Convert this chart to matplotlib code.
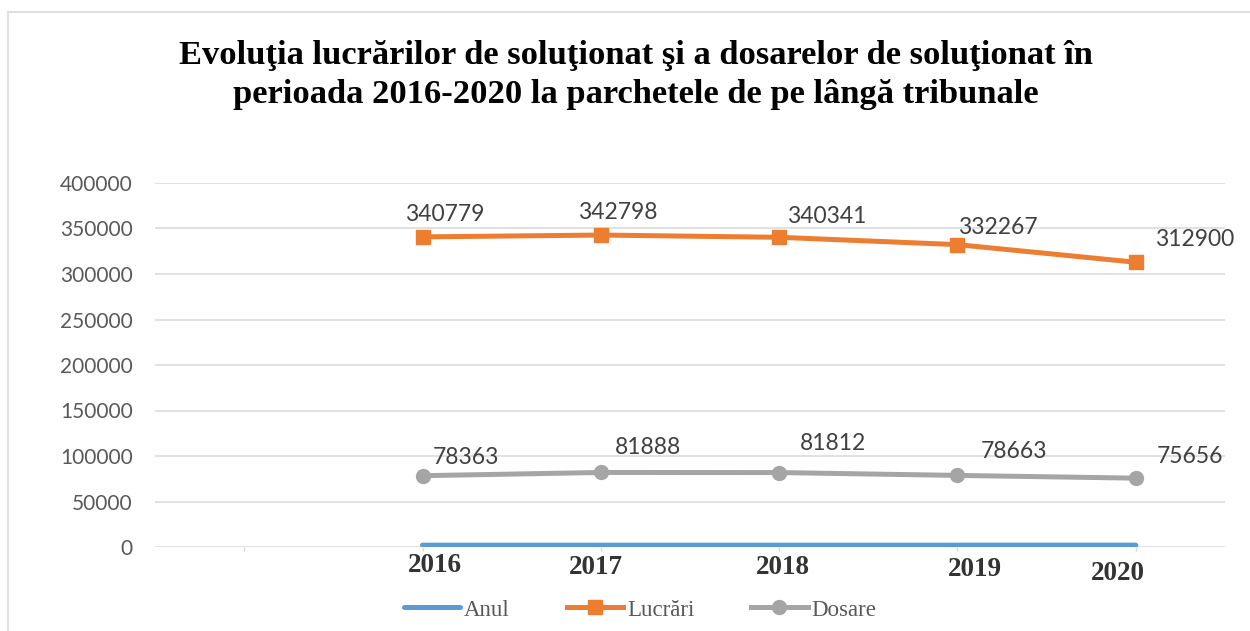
import matplotlib.pyplot as plt
from matplotlib.patches import Rectangle

# date
categorii = ['', '2016', '2017', '2018', '2019', '2020']
anul = [2016, 2017, 2018, 2019, 2020]
lucrari = [340779, 342798, 340341, 332267, 312900]
dosare = [78363, 81888, 81812, 78663, 75656]

# decalaj etichete (pixeli)
off_anul = [(12, -20), (-5, -22), (4, -22), (17, -24), (-18, -28)]
off_lucrari = [(22, 22), (17, 23), (48, 21), (40, 17), (59, 23)]
off_dosare = [(43, 18), (47, 25), (54, 29), (57, 24), (54, 22)]

titlu = 'Evoluţia lucrărilor de soluţionat şi a dosarelor de soluţionat în\nperioada 2016-2020 la parchetele de pe lângă tribunale'

albastru = '#5B9BD5'
portocaliu = '#ED7D31'
gri = '#A5A5A5'
grila = '#D9D9D9'

fig = plt.figure(figsize=(12.5, 6.31), dpi=100)
ax = fig.add_axes([155/1250, 1 - 547/631, 1070/1250, 364/631])

x = list(range(1, len(categorii)))

l1, = ax.plot(x, anul, color=albastru, lw=3.6, solid_capstyle='round', zorder=3)
l2, = ax.plot(x, lucrari, color=portocaliu, lw=3.6, marker='s', markersize=10, zorder=3)
l3, = ax.plot(x, dosare, color=gri, lw=3.6, marker='o', markersize=10, zorder=3)

px = 72 / 100  # pixeli -> puncte

for xi, v, (dx, dy) in zip(x, anul, off_anul):
    ax.annotate(str(v), (xi, v), xytext=(dx * px, dy * px), textcoords='offset points',
                ha='center', va='center', fontsize=19.5, fontweight='bold',
                family='Liberation Serif', color='#333333')
for xi, v, (dx, dy) in zip(x, lucrari, off_lucrari):
    ax.annotate(str(v), (xi, v), xytext=(dx * px, dy * px), textcoords='offset points',
                ha='center', va='center', fontsize=16.5, family='Lato', color='#404040')
for xi, v, (dx, dy) in zip(x, dosare, off_dosare):
    ax.annotate(str(v), (xi, v), xytext=(dx * px, dy * px), textcoords='offset points',
                ha='center', va='center', fontsize=16.5, family='Lato', color='#404040')

ax.set_xlim(-0.5, len(categorii) - 0.5)
ax.set_ylim(0, 400000)
ax.set_yticks(range(0, 400001, 50000))
ax.set_xticks(range(len(categorii)))
ax.set_xticklabels([''] * len(categorii))
ax.grid(axis='y', color=grila, lw=1.1)
ax.set_axisbelow(True)
for s in ax.spines.values():
    s.set_visible(False)
ax.tick_params(axis='y', length=0, pad=16, labelsize=15, labelcolor='#595959')
ax.tick_params(axis='x', length=3, color=grila, width=1)
for t in ax.get_yticklabels():
    t.set_family('Lato')

fig.text(636/1250, 1 - 75/631, titlu, ha='center', va='center', fontsize=24.8,
         fontweight='bold', family='Liberation Serif', linespacing=1.32)

fig.legend([l1, l2, l3], ['Anul', 'Lucrări', 'Dosare'], loc='center', ncol=3,
           bbox_to_anchor=(640/1250, 1 - 610/631), frameon=False,
           prop={'family': 'Liberation Serif', 'size': 16.5}, labelcolor='#595959',
           handlelength=2.45, handletextpad=0.17, columnspacing=2.5)

# chenar diagramă
fig.patches.append(Rectangle((8/1250, -0.1), 1.2, 1 - 12/631 + 0.1, transform=fig.transFigure,
                             fill=False, edgecolor=grila, lw=1.2))

fig.savefig('out.png', dpi=100)
